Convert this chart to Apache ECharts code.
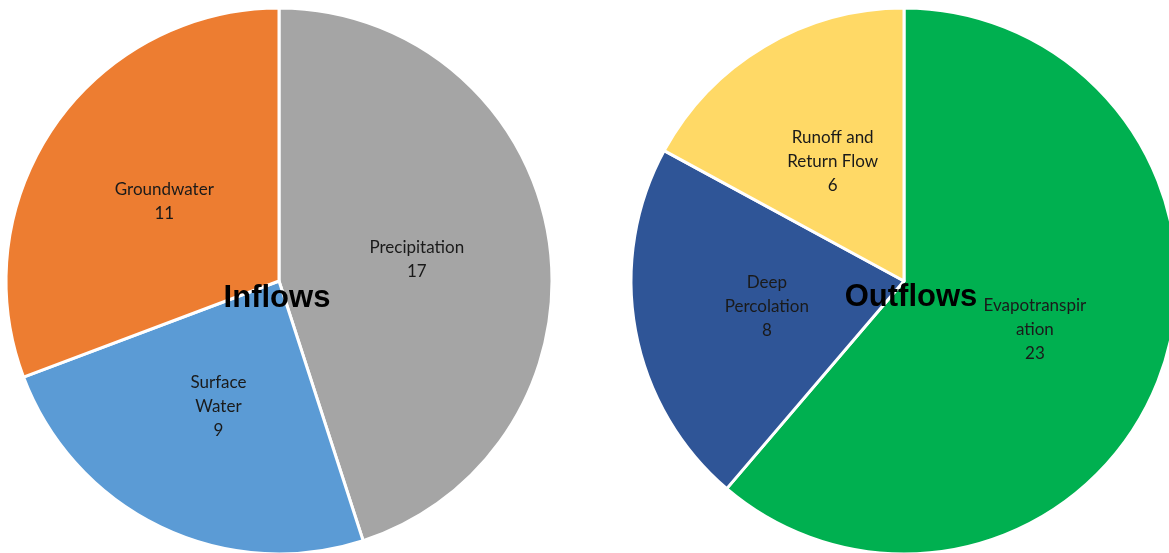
<!DOCTYPE html>
<html lang="en">
<head>
    <meta charset="UTF-8">
    <title>Inflows and Outflows</title>
    <script src="https://cdn.jsdelivr.net/npm/echarts@6/dist/echarts.min.js"></script>
    <style>
        html, body { margin: 0; padding: 0; background: #fff; }
    </style>
</head>
<body>
<div id="main" style="width: 1169px;height:553px;"></div>
<script type="text/javascript">
    // data (slice sizes estimated from angles, labels show rounded values)
    var inflowNames = ['Precipitation', 'Surface Water', 'Groundwater'];
    var inflowLabels = ['Precipitation', 'Surface\nWater', 'Groundwater'];
    var inflowValues = [16.7, 9.0, 11.4];
    var inflowColors = ['#A5A5A5', '#5B9BD5', '#ED7D31'];

    var outflowNames = ['Evapotranspiration', 'Deep Percolation', 'Runoff and Return Flow'];
    var outflowLabels = ['Evapotranspir\nation', 'Deep\nPercolation', 'Runoff and\nReturn Flow'];
    var outflowValues = [22.6, 8.0, 6.3];
    var outflowColors = ['#00B050', '#2F5597', '#FFD966'];

    var myChart = echarts.init(document.getElementById('main'));

    function pieData(names, labels, values, colors) {
        return names.map(function (n, i) {
            return {
                name: n,
                value: values[i],
                itemStyle: { color: colors[i] },
                label: { formatter: labels[i] + '\n' + Math.round(values[i]) }
            };
        });
    }

    function pieSeries(center, data) {
        return {
            type: 'pie',
            center: center,
            radius: 273,
            startAngle: 90,
            clockwise: true,
            silent: true,
            animation: false,
            itemStyle: { borderColor: '#fff', borderWidth: 3 },
            label: {
                show: true,
                position: 'inside',
                color: '#1a1a1a',
                fontFamily: 'Lato',
                fontSize: 17,
                lineHeight: 24,
                align: 'center'
            },
            labelLine: { show: false },
            data: data
        };
    }

    var titleStyle = {
        fontFamily: 'Liberation Sans',
        fontWeight: 'bold',
        fontSize: 31,
        color: '#000'
    };

    myChart.setOption({
        animation: false,
        title: [
            { text: 'Inflows', left: 272, top: 278, textAlign: 'center', textStyle: titleStyle },
            { text: 'Outflows', left: 906, top: 277, textAlign: 'center', textStyle: titleStyle }
        ],
        series: [
            pieSeries([279, 281], pieData(inflowNames, inflowLabels, inflowValues, inflowColors)),
            pieSeries([904, 281], pieData(outflowNames, outflowLabels, outflowValues, outflowColors))
        ]
    });
</script>
</body>
</html>
